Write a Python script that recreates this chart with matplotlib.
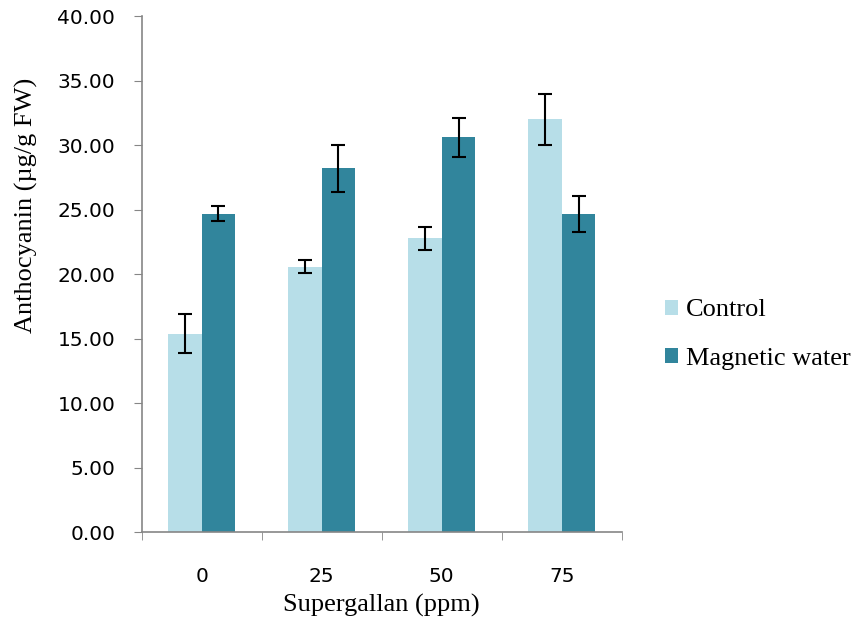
import matplotlib
matplotlib.use("Agg")
import matplotlib.pyplot as plt
import numpy as np

categories = ["0", "25", "50", "75"]
control = [15.4, 20.6, 22.8, 32.0]
control_err = [1.5, 0.5, 0.9, 2.0]
magnetic = [24.7, 28.2, 30.6, 24.7]
magnetic_err = [0.6, 1.8, 1.5, 1.4]
series_names = ["Control", "Magnetic water"]
yticks = [0, 5, 10, 15, 20, 25, 30, 35, 40]

c_light = "#B7DEE8"
c_dark = "#31859C"
axis_col = "#868686"

fig = plt.figure(figsize=(8.53, 6.24), dpi=100)
ax = fig.add_axes([0.166, 0.147, 0.563, 0.827])

x = np.arange(len(categories))
w = 0.28
ax.bar(x - w/2, control, w, color=c_light, label=series_names[0], zorder=2)
ax.bar(x + w/2, magnetic, w, color=c_dark, label=series_names[1], zorder=2)
ax.errorbar(x - w/2, control, yerr=control_err, fmt="none", ecolor="black",
            elinewidth=1.5, capsize=5, capthick=1.5, zorder=3)
ax.errorbar(x + w/2, magnetic, yerr=magnetic_err, fmt="none", ecolor="black",
            elinewidth=1.5, capsize=5, capthick=1.5, zorder=3)

ax.set_xlim(-0.5, len(categories) - 0.5)
ax.set_ylim(0, 40)
ax.set_yticks(yticks)
ax.set_yticklabels([f"{v:.2f}" for v in yticks], fontsize=14.5, family="DejaVu Sans")
ax.set_xticks(x)
ax.set_xticklabels(categories, fontsize=14.5, family="DejaVu Sans")
ax.tick_params(axis="x", which="major", length=0, pad=25)
ax.set_xticks(np.arange(-0.5, len(categories)), minor=True)
ax.tick_params(axis="x", which="minor", length=6, color=axis_col, direction="out")
ax.tick_params(axis="y", length=6, color=axis_col, direction="out", pad=13)

for s in ["top", "right"]:
    ax.spines[s].set_visible(False)
for s in ["left", "bottom"]:
    ax.spines[s].set_color(axis_col)
    ax.spines[s].set_linewidth(1.2)

ax.set_xlabel("Supergallan (ppm)", fontsize=19, family="Liberation Serif", labelpad=6)
ax.set_ylabel("Anthocyanin (µg/g FW)", fontsize=19, family="Liberation Serif")
ax.yaxis.set_label_coords(-0.215, 0.634)

leg = ax.legend(loc="center left", bbox_to_anchor=(1.04, 0.383), frameon=False,
                prop={"family": "Liberation Serif", "size": 19},
                handlelength=0.5, handleheight=0.5, handletextpad=0.3,
                labelspacing=1.0)

fig.savefig("out.png", dpi=100)
